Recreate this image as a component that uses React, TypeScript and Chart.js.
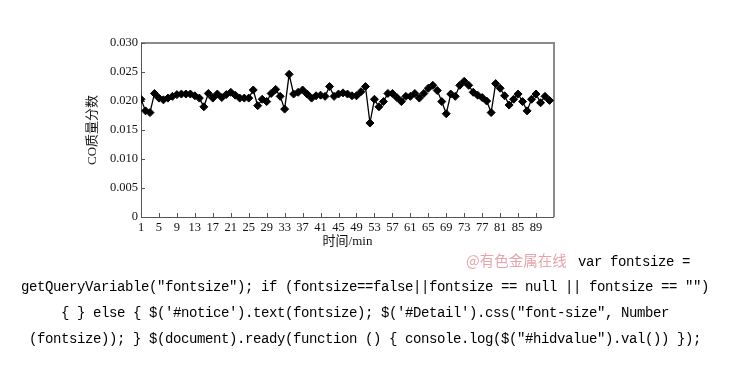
import React, { useEffect, useRef } from "react";
import { Chart, registerables } from "chart.js";

Chart.register(...registerables);

const minutes = [
  1, 2, 3, 4, 5, 6, 7, 8, 9, 10, 11, 12, 13, 14, 15, 16, 17, 18, 19, 20,
  21, 22, 23, 24, 25, 26, 27, 28, 29, 30, 31, 32, 33, 34, 35, 36, 37, 38, 39, 40,
  41, 42, 43, 44, 45, 46, 47, 48, 49, 50, 51, 52, 53, 54, 55, 56, 57, 58, 59, 60,
  61, 62, 63, 64, 65, 66, 67, 68, 69, 70, 71, 72, 73, 74, 75, 76, 77, 78, 79, 80,
  81, 82, 83, 84, 85, 86, 87, 88, 89, 90, 91, 92,
];

const coFraction = [
  0.0203, 0.0183, 0.018, 0.0213, 0.0205, 0.0202, 0.0205, 0.0208, 0.0211, 0.0212,
  0.0212, 0.0212, 0.0209, 0.0205, 0.019, 0.0213, 0.0205, 0.0212, 0.0206, 0.0211,
  0.0215, 0.021, 0.0205, 0.0205, 0.0205, 0.0219, 0.0192, 0.0203, 0.0199, 0.0213,
  0.022, 0.0208, 0.0186, 0.0246, 0.0212, 0.0215, 0.0219, 0.0212, 0.0205, 0.0209,
  0.021, 0.0208, 0.0225, 0.0208, 0.0212, 0.0214, 0.0212, 0.0209, 0.0209, 0.0216,
  0.0225, 0.0162, 0.0203, 0.019, 0.0199, 0.0213, 0.0213, 0.0206, 0.0199, 0.0208,
  0.0208, 0.0213, 0.0205, 0.0213, 0.0222, 0.0227, 0.0218, 0.0199, 0.0178, 0.0212,
  0.0208, 0.0227, 0.0234, 0.0227, 0.0215, 0.021, 0.0206, 0.02, 0.018, 0.023,
  0.0222, 0.0209, 0.0193, 0.0203, 0.0212, 0.0199, 0.0183, 0.0203, 0.0212, 0.0197,
  0.0208, 0.0201,
];

const xTicks = [1, 5, 9, 13, 17, 21, 25, 29, 33, 37, 41, 45, 49, 53, 57, 61, 65, 69, 73, 77, 81, 85, 89];
const yTicks = [0, 0.005, 0.01, 0.015, 0.02, 0.025, 0.03];
const xTitle = "时间/min";
const yTitle = "CO质量分数";

const textLine1 = "var fontsize =";
const textLine2 = 'getQueryVariable("fontsize"); if (fontsize==false||fontsize == null || fontsize == "")';
const textLine3 = "{ } else { $('#notice').text(fontsize); $('#Detail').css(\"font-size\", Number";
const textLine4 = '(fontsize)); } $(document).ready(function () { console.log($("#hidvalue").val()) });';
const watermark = "@有色金属在线";

const serif = "'Liberation Serif', 'Times New Roman', 'Noto Sans CJK SC', serif";

const framePlugin = {
  id: "frameTicks",
  beforeDatasetsDraw(chart: any) {
    const { ctx, chartArea } = chart;
    const { left, right, top, bottom } = chartArea;
    ctx.save();
    ctx.strokeStyle = "#8a8a8a";
    ctx.lineWidth = 2;
    ctx.beginPath();
    ctx.moveTo(left, top);
    ctx.lineTo(right, top);
    ctx.lineTo(right, bottom);
    ctx.stroke();
    ctx.strokeStyle = "#555";
    ctx.lineWidth = 1;
    ctx.beginPath();
    ctx.moveTo(left + 0.5, top);
    ctx.lineTo(left + 0.5, bottom + 0.5);
    ctx.lineTo(right, bottom + 0.5);
    ctx.stroke();
    const xs = chart.scales.x;
    const ys = chart.scales.y;
    ctx.strokeStyle = "#555";
    ctx.beginPath();
    xs.ticks.forEach((t: any) => {
      const px = Math.round(xs.getPixelForValue(t.value)) + 0.5;
      ctx.moveTo(px, bottom);
      ctx.lineTo(px, bottom - 4);
    });
    ys.ticks.forEach((t: any) => {
      const py = Math.round(ys.getPixelForValue(t.value)) + 0.5;
      ctx.moveTo(left, py);
      ctx.lineTo(left + 4, py);
    });
    ctx.stroke();
    ctx.restore();
  },
};

export default function App() {
  const canvasRef = useRef<HTMLCanvasElement | null>(null);

  useEffect(() => {
    if (!canvasRef.current) return;
    const chart = new Chart(canvasRef.current, {
      type: "line",
      data: {
        datasets: [
          {
            data: minutes.map((m, i) => ({ x: m, y: coFraction[i] })),
            borderColor: "#000",
            backgroundColor: "#000",
            borderWidth: 1.3,
            pointStyle: "rectRot",
            pointRadius: 4,
            pointBorderWidth: 1,
            pointBackgroundColor: "#000",
            pointBorderColor: "#000",
            tension: 0,
          },
        ],
      },
      options: {
        animation: false,
        responsive: false,
        maintainAspectRatio: false,
        layout: { padding: { left: 0, top: 43, right: 176, bottom: 0 } },
        plugins: { legend: { display: false }, tooltip: { enabled: false } },
        scales: {
          x: {
            type: "linear",
            min: 1,
            max: 93,
            afterBuildTicks: (scale: any) => {
              scale.ticks = xTicks.map((v) => ({ value: v }));
            },
            afterFit: (scale: any) => {
              scale.height = 41;
            },
            grid: { display: false, drawTicks: false },
            border: { display: false },
            ticks: {
              autoSkip: false,
              maxRotation: 0,
              padding: 3,
              color: "#111",
              font: { family: serif, size: 12.5 },
              callback: (v: any) => String(v),
            },
            title: {
              display: true,
              text: xTitle,
              color: "#111",
              font: { family: serif, size: 13 },
              padding: { top: 0, bottom: 9 },
            },
          },
          y: {
            type: "linear",
            min: 0,
            max: 0.03,
            afterBuildTicks: (scale: any) => {
              scale.ticks = yTicks.map((v) => ({ value: v }));
            },
            afterFit: (scale: any) => {
              scale.width = 141;
            },
            grid: { display: false, drawTicks: false },
            border: { display: false },
            ticks: {
              padding: 3,
              color: "#111",
              font: { family: serif, size: 12.5 },
              callback: (v: any) => (Number(v) === 0 ? "0" : Number(v).toFixed(3)),
            },
            title: {
              display: true,
              text: yTitle,
              color: "#111",
              font: { family: serif, size: 13 },
              padding: { top: 85, bottom: 0 },
            },
          },
        },
      },
      plugins: [framePlugin],
    });
    return () => chart.destroy();
  }, []);

  const mono: React.CSSProperties = {
    position: "absolute",
    fontFamily: "'Liberation Mono', 'DejaVu Sans Mono', monospace",
    fontSize: 14,
    letterSpacing: -0.4,
    lineHeight: "26px",
    whiteSpace: "pre",
    color: "#000",
  };

  return (
    <div style={{ position: "absolute", left: 0, top: 0, width: 730, height: 388, background: "#fff", overflow: "hidden" }}>
      <canvas ref={canvasRef} width={730} height={258} style={{ position: "absolute", left: 0, top: 0, width: 730, height: 258 }} />
      <div
        style={{
          position: "absolute",
          left: 466,
          top: 249,
          fontFamily: "'Noto Sans CJK SC', serif",
          fontSize: 14.5,
          lineHeight: "22px",
          color: "#eaa3aa",
          whiteSpace: "pre",
        }}
      >
        {watermark}
      </div>
      <div style={{ ...mono, left: 578, top: 249 }}>{textLine1}</div>
      <div style={{ ...mono, left: 0, width: 730, textAlign: "center", top: 274 }}>{textLine2}</div>
      <div style={{ ...mono, left: 0, width: 730, textAlign: "center", top: 300 }}>{textLine3}</div>
      <div style={{ ...mono, left: 0, width: 730, textAlign: "center", top: 326 }}>{textLine4}</div>
    </div>
  );
}
